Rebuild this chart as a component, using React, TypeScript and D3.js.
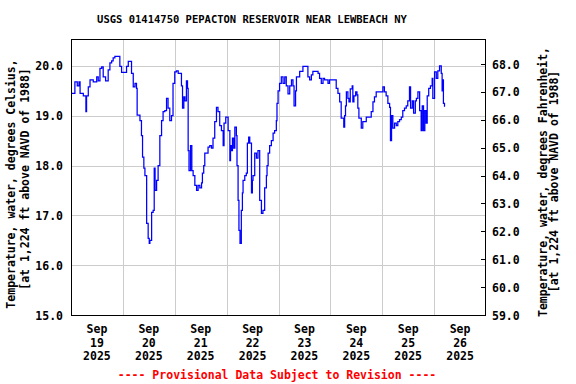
import React from "react";
import * as d3 from "d3";

// hours since Sep 19 2025 00:00 and water temperature (deg C)
const hours = [
  0.3, 1.8, 2.9, 3.7, 4.2, 5.7, 6.9, 7.2, 8.0, 8.8, 10.3, 11.9, 12.6, 13.4, 14.2, 14.9, 16.0, 17.2, 18.0, 18.8,
  19.5, 20.3, 21.9, 22.6, 23.4, 24.9, 25.7, 26.5, 27.3, 28.0, 28.8, 29.6, 30.3, 30.6, 31.9, 32.6, 33.1, 33.7, 34.2, 35.0,
  35.7, 36.2, 36.5, 37.3, 38.0, 38.5, 38.9, 39.6, 40.3, 41.1, 41.9, 42.6, 43.4, 44.2, 44.9, 45.7, 46.5, 47.2, 48.0, 48.8,
  49.6, 50.4, 51.1, 51.6, 52.2, 52.7, 53.4, 53.9, 54.2, 54.6, 55.3, 55.9, 56.5, 57.3, 58.1, 58.8, 59.6, 60.4, 60.8, 61.4,
  61.9, 62.7, 63.4, 64.2, 65.0, 65.7, 66.5, 67.3, 68.0, 68.8, 69.6, 70.4, 70.8, 71.6, 72.4, 72.7, 73.5, 73.8, 74.3, 74.7,
  75.3, 75.8, 76.5, 76.8, 77.3, 77.7, 78.2, 78.8, 79.3, 79.6, 80.4, 81.1, 81.6, 82.2, 82.7, 83.5, 83.9, 84.2, 85.0, 85.8,
  86.5, 87.0, 87.3, 88.1, 88.8, 89.6, 90.4, 90.7, 91.2, 91.9, 92.7, 93.5, 94.2, 95.0, 95.3, 95.8, 96.5, 97.3, 98.1, 98.9,
  99.6, 100.4, 101.2, 102.0, 102.7, 103.2, 103.9, 104.3, 105.0, 105.8, 107.3, 108.9, 109.6, 110.4, 111.2, 111.9, 113.5, 114.3, 115.0, 115.8,
  116.6, 117.3, 118.9, 119.6, 122.0, 122.7, 123.5, 124.3, 125.0, 126.2, 126.6, 127.0, 127.4, 128.1, 128.6, 129.2, 130.1, 130.4, 130.9, 131.7,
  132.3, 132.7, 133.2, 134.3, 135.0, 136.6, 138.9, 139.7, 140.4, 141.2, 143.5, 144.3, 145.0, 145.8, 146.6, 147.4, 147.8, 148.3, 148.9, 149.7,
  150.5, 151.2, 152.0, 152.8, 153.5, 154.3, 155.1, 155.8, 156.6, 157.1, 157.9, 158.5, 159.3, 159.8, 160.5, 161.3, 162.0, 162.5, 163.1, 163.7,
  164.3, 164.8, 165.5, 166.3, 167.1, 167.4, 168.2, 169.0, 169.7, 170.5, 171.3, 171.7, 172.0, 172.3, 172.8,
];
const temps = [
  19.45, 19.68, 19.6, 19.68, 19.45, 19.4, 19.08, 19.4, 19.58, 19.72, 19.68, 19.78, 19.7, 19.95, 19.98, 19.78, 19.7, 19.92, 20.06, 20.1,
  20.16, 20.19, 20.19, 19.99, 19.87, 19.87, 19.99, 20.09, 20.09, 19.85, 19.58, 19.65, 19.55, 19.01, 18.9, 18.6, 18.17, 17.95, 17.8, 16.84,
  16.54, 16.44, 16.5, 17.06, 17.1, 17.95, 17.5, 17.7, 18.0, 18.6, 18.9, 19.08, 19.1, 19.35, 19.15, 18.9, 19.0, 19.65, 19.88, 19.9,
  19.85, 19.85, 19.6, 19.15, 19.38, 19.3, 19.7, 19.55, 18.3, 17.9, 18.4, 17.9, 17.8, 17.6, 17.5, 17.6, 17.55, 17.65, 17.85, 18.0,
  18.25, 18.25, 18.37, 18.4, 18.35, 18.55, 18.88, 19.17, 19.08, 18.8, 18.7, 18.4, 18.85, 18.97, 18.97, 18.7, 18.1, 18.4, 18.3, 18.55,
  18.35, 18.77, 18.6, 18.0, 17.3, 16.7, 16.44, 17.1, 17.45, 17.7, 17.8, 17.85, 18.45, 18.57, 18.45, 17.45, 17.7, 17.8, 18.25, 18.15,
  18.3, 18.3, 17.3, 17.04, 17.1, 17.55, 17.8, 18.0, 18.25, 18.4, 18.5, 18.65, 18.7, 18.9, 19.25, 19.5, 19.65, 19.78, 19.65, 19.78,
  19.6, 19.44, 19.6, 19.72, 19.6, 19.2, 19.5, 19.78, 19.78, 19.89, 19.99, 19.99, 19.78, 19.72, 19.82, 19.89, 19.89, 19.85, 19.75, 19.65,
  19.75, 19.72, 19.65, 19.72, 19.72, 19.55, 19.45, 19.28, 18.95, 18.77, 19.0, 19.2, 19.48, 19.35, 19.28, 19.54, 19.6, 19.28, 19.4, 19.48,
  19.42, 19.15, 18.95, 18.75, 18.88, 18.97, 19.08, 19.28, 19.38, 19.48, 19.48, 19.58, 19.48, 19.4, 19.25, 19.17, 18.5, 19.0, 18.75, 18.85,
  18.8, 18.88, 18.92, 18.97, 19.1, 19.15, 19.2, 19.3, 19.58, 19.15, 19.3, 19.05, 19.3, 19.35, 19.48, 19.1, 18.7, 19.2, 18.7, 19.1,
  18.85, 19.4, 19.55, 19.6, 19.75, 19.35, 19.88, 19.75, 19.9, 20.0, 19.85, 19.5, 19.72, 19.25, 19.18,
];

const celsiusTicks = [15, 16, 17, 18, 19, 20];
const fahrenheitTicks = [59, 60, 61, 62, 63, 64, 65, 66, 67, 68];
const dayLabels = ["19", "20", "21", "22", "23", "24", "25", "26"];
const monthLabel = "Sep";
const yearLabel = "2025";

const title = "USGS 01414750 PEPACTON RESERVOIR NEAR LEWBEACH NY";
const leftLabel = ["Temperature, water, degrees Celsius,", "[at 1,224 ft above NAVD of 1988]"];
const rightLabel = ["Temperature, water, degrees Fahrenheit,", "[at 1,224 ft above NAVD of 1988]"];
const footer = "---- Provisional Data Subject to Revision ----";

const W = 576;
const H = 384;
const left = 71;
const right = 486;
const top = 39;
const bottom = 315;
const font = "'DejaVu Sans Mono', monospace";

export default function App() {
  const x = d3.scaleLinear().domain([0, 192]).range([left, right]);
  const y = d3.scaleLinear().domain([15, 20.54]).range([bottom, top]);
  const yF = d3.scaleLinear().domain([59, 68.9]).range([bottom, top]);

  const points: [number, number][] = hours.map((h, i) => [h, temps[i]]);
  const line = d3
    .line<[number, number]>()
    .x((d) => x(d[0]))
    .y((d) => y(d[1]))
    .curve(d3.curveStepAfter);

  const dayEdges = d3.range(1, 8).map((d) => d * 24);

  return (
    <svg
      width={W}
      height={H}
      style={{ position: "absolute", left: 0, top: 0, background: "#fff" }}
      fontFamily={font}
      fontWeight="bold"
      fontSize={11.5}
    >
      <rect x={0} y={0} width={W} height={H} fill="#fff" />
      <text x={252} y={23} textAnchor="middle" fill="#000" fontSize={10.5}>
        {title}
      </text>

      {/* grid */}
      {celsiusTicks.map((t) => (
        <line key={"h" + t} x1={left} x2={right} y1={Math.round(y(t)) + 0.5} y2={Math.round(y(t)) + 0.5} stroke="#cccccc" />
      ))}
      {dayEdges.map((h) => (
        <line key={"v" + h} x1={Math.round(x(h)) + 0.5} x2={Math.round(x(h)) + 0.5} y1={top} y2={bottom} stroke="#cccccc" />
      ))}

      {/* data */}
      <path d={line(points) ?? ""} fill="none" stroke="#0000ff" strokeWidth={1.25} />

      {/* frame */}
      <rect x={left + 0.5} y={top + 0.5} width={right - left - 1} height={bottom - top} fill="none" stroke="#000" />

      {/* left axis labels */}
      {celsiusTicks.map((t) => (
        <text key={"lc" + t} x={63} y={y(t) + 4.5} textAnchor="end" fill="#000">
          {t.toFixed(1)}
        </text>
      ))}

      {/* right axis ticks and labels */}
      {fahrenheitTicks.map((t) => (
        <g key={"rf" + t}>
          <line x1={right - 5} x2={right} y1={Math.round(yF(t)) + 0.5} y2={Math.round(yF(t)) + 0.5} stroke="#000" />
          <text x={492} y={yF(t) + 4.5} fill="#000">
            {t.toFixed(1)}
          </text>
        </g>
      ))}

      {/* x labels */}
      {dayLabels.map((d, i) => {
        const cx = x(i * 24 + 12);
        return (
          <text key={"d" + d} textAnchor="middle" fill="#000">
            <tspan x={cx} y={333}>{monthLabel}</tspan>
            <tspan x={cx} y={347}>{d}</tspan>
            <tspan x={cx} y={360}>{yearLabel}</tspan>
          </text>
        );
      })}

      {/* axis titles */}
      <text transform="translate(15,184) rotate(-90)" textAnchor="middle" fill="#000">
        {leftLabel[0]}
      </text>
      <text transform="translate(29,179) rotate(-90)" textAnchor="middle" fill="#000">
        {leftLabel[1]}
      </text>
      <text transform="translate(547,182) rotate(-90)" textAnchor="middle" fill="#000">
        {rightLabel[0]}
      </text>
      <text transform="translate(558,181.5) rotate(-90)" textAnchor="middle" fill="#000">
        {rightLabel[1]}
      </text>

      <text x={277} y={379} textAnchor="middle" fill="#ff0000">
        {footer}
      </text>
    </svg>
  );
}
